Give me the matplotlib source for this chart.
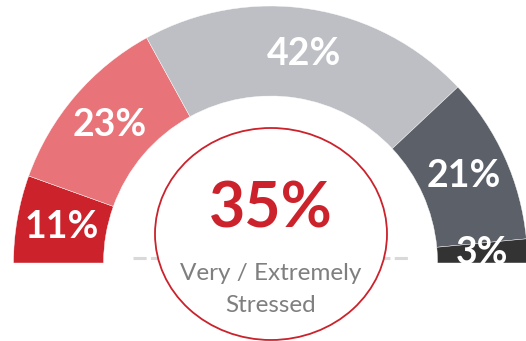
import numpy as np
import matplotlib
matplotlib.use('Agg')
import matplotlib.pyplot as plt
from matplotlib.patches import Wedge, Ellipse
from matplotlib.transforms import Bbox, TransformedBbox

plt.rcParams['font.family'] = ['Lato', 'DejaVu Sans']

# stress levels, left to right along the half ring
values = [11, 23, 42, 21, 3]
labels = ['11%', '23%', '42%', '21%', '3%']
colors = ['#CB222B', '#E8747A', '#BDBFC4', '#5C6169', '#333333']

center_value = '35%'
center_lines = ['Very / Extremely', 'Stressed']

r_out = 257
ring = 90

fig = plt.figure(figsize=(5.26, 3.41), dpi=100)
ax = fig.add_axes([0, 0, 1, 1])
ax.set_xlim(-270.5, 255.5)
ax.set_ylim(-78, 263)
ax.set_aspect('equal')
ax.axis('off')

# only the upper half is visible
clip = TransformedBbox(Bbox([[-400, 0], [400, 400]]), ax.transData)

total = sum(values)
start = 180.0
for v, lab, c in zip(values, labels, colors):
    sweep = 180.0 * v / total
    w = Wedge((0, 0), r_out, start - sweep, start, width=ring,
              facecolor=c, edgecolor='white', linewidth=0.3)
    ax.add_patch(w)
    mid = np.radians(start - sweep / 2)
    rm = r_out - ring / 2
    t = ax.text(rm * np.cos(mid), rm * np.sin(mid), lab, color='white',
                fontsize=27, fontweight='bold', ha='center', va='center')
    t.set_clip_box(clip)
    t.set_clip_on(True)
    start -= sweep

# dashed base line behind the centre badge
ax.plot([-137.5, 137.5], [5, 5], color='#D9D9D9', linewidth=2.2,
        dashes=(4.3, 1.4), zorder=1)

badge = Ellipse((0.5, 29), 232, 212, facecolor='white', edgecolor='#CB222B',
                linewidth=1.3, zorder=3)
ax.add_patch(badge)

ax.text(0, 53, center_value, color='#CB222B', fontsize=45, fontweight='bold',
        ha='center', va='center', zorder=4)
ax.text(0, -10, center_lines[0], color='#7F7F7F', fontsize=17.5,
        ha='center', va='center', zorder=4)
ax.text(0, -43, center_lines[1], color='#7F7F7F', fontsize=17.5,
        ha='center', va='center', zorder=4)

fig.savefig('out.png', dpi=100)
